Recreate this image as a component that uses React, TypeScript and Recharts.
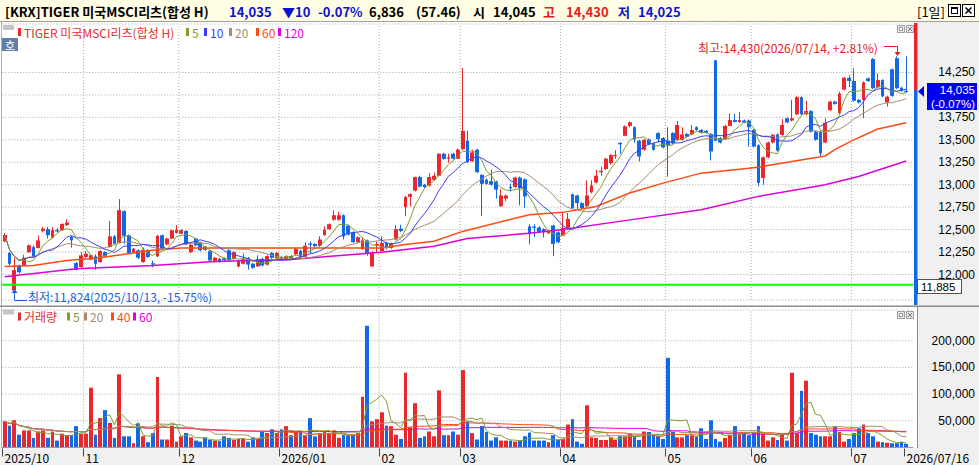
import { ComposedChart, Bar, Line, XAxis, YAxis, CartesianGrid, ReferenceLine } from 'recharts';

const FONT = '"Noto Sans CJK KR", "Noto Sans", sans-serif';
const NUM_FONT = '"Liberation Sans", Arial, sans-serif';
const UP = '#e8282c';
const DOWN = '#1169e8';
const TXT_BLUE = '#0a14d0';
const TXT_RED = '#e01e1e';

// x-axis: first trading day of each month, plus the last day
const monthTickIdx = [0, 17, 37, 58, 79, 96, 117, 139, 157, 178, 189];
const monthTickLabels = ['2025/10', '11', '12', '2026/01', '02', '03', '04', '05', '06', '07', '2026/07/16'];

const priceTicks = [12000, 12250, 12500, 12750, 13000, 13250, 13500, 13750, 14000, 14250];
const volumeTicks = [50000, 100000, 150000, 200000];

// daily candles, 2025/10 .. 2026/07/16
const opens = [
  12370, 12240, 11824, 12100, 12100, 12250, 12305, 12295, 12485, 12505,
  12410, 12495, 12493, 12550, 12418, 12127, 12082, 12195, 12165, 12202,
  12138, 12250, 12306, 12425, 12351, 12705, 12437, 12250, 12269, 12138,
  12270, 12125, 12202, 12437, 12335, 12400, 12463, 12455, 12485, 12250,
  12400, 12355, 12310, 12260, 12138, 12175, 12180, 12270, 12175, 12090,
  12120, 12185, 12120, 12090, 12175, 12110, 12240, 12185, 12195, 12170,
  12205, 12225, 12265, 12200, 12345, 12340, 12320, 12440, 12505, 12610,
  12610, 12660, 12545, 12470, 12360, 12285, 12380, 12090, 12330, 12260,
  12350, 12295, 12390, 12510, 12750, 12865, 12935, 13085, 13000, 12990,
  13055, 13100, 13345, 13290, 13345, 13290, 13395, 13490, 13260, 13390,
  13110, 13055, 13040, 13035, 12760, 12845, 12975, 12975, 13080, 13060,
  12535, 12535, 12525, 12505, 12460, 12545, 12470, 12435, 12520, 12895,
  12880, 12795, 12760, 12915, 13025, 13140, 13175, 13240, 13320, 13465,
  13545, 13655, 13640, 13490, 13390, 13505, 13460, 13575, 13520, 13490,
  13575, 13500, 13500, 13565, 13560, 13640, 13610, 13600, 13565, 14385,
  13520, 13505, 13655, 13720, 13700, 13715, 13715, 13610, 13440, 13075,
  13305, 13470, 13560, 13555, 13740, 13715, 13785, 13975, 13785, 13820,
  13590, 13590, 13470, 13830, 13925, 13795, 14060, 14190, 14155, 13945,
  13945, 14185, 14400, 14085, 14165, 13915, 14285, 14410, 14080, 14045,
];
const highs = [
  12460, 12250, 12190, 12110, 12220, 12335, 12325, 12435, 12530, 12530,
  12530, 12520, 12570, 12615, 12430, 12140, 12250, 12260, 12225, 12225,
  12270, 12260, 12597, 12440, 12840, 12715, 12445, 12295, 12280, 12300,
  12280, 12155, 12440, 12445, 12410, 12500, 12550, 12505, 12495, 12345,
  12410, 12365, 12320, 12270, 12195, 12185, 12190, 12280, 12260, 12160,
  12235, 12195, 12130, 12215, 12185, 12215, 12250, 12250, 12205, 12215,
  12215, 12295, 12275, 12360, 12370, 12350, 12425, 12535, 12570, 12715,
  12700, 12670, 12555, 12480, 12425, 12410, 12390, 12260, 12370, 12425,
  12365, 12355, 12550, 12555, 12875, 12905, 13090, 13100, 13010, 13130,
  13135, 13350, 13355, 13345, 13355, 13405, 14300, 13600, 13390, 13400,
  13115, 13070, 13165, 13045, 12950, 12890, 13010, 13090, 13090, 13070,
  12560, 12560, 12535, 12515, 12495, 12555, 12480, 12695, 12685, 12900,
  12890, 12805, 13050, 13050, 13165, 13200, 13300, 13340, 13385, 13475,
  13660, 13705, 13650, 13500, 13510, 13515, 13470, 13585, 13530, 13640,
  13585, 13710, 13640, 13575, 13665, 13650, 13620, 13610, 13575, 14390,
  13530, 13665, 13795, 13790, 13810, 13725, 13725, 13620, 13450, 13315,
  13480, 13565, 13570, 13730, 13750, 13945, 13985, 13985, 13935, 13830,
  13600, 13600, 13740, 13935, 13935, 14035, 14200, 14220, 14295, 13955,
  14150, 14195, 14410, 14240, 14175, 13990, 14295, 14430, 14090, 14430,
];
const lows = [
  12360, 12100, 11824, 12010, 12095, 12240, 12190, 12290, 12470, 12400,
  12405, 12470, 12485, 12540, 12300, 12045, 12075, 12180, 12160, 12052,
  12130, 12195, 12300, 12335, 12345, 12343, 12230, 12240, 12170, 12130,
  12185, 12080, 12195, 12280, 12325, 12395, 12455, 12450, 12330, 12240,
  12315, 12260, 12265, 12140, 12130, 12130, 12150, 12140, 12165, 12080,
  12110, 12055, 12065, 12085, 12090, 12100, 12175, 12175, 12160, 12160,
  12170, 12215, 12185, 12190, 12230, 12305, 12310, 12430, 12495, 12600,
  12600, 12390, 12435, 12350, 12350, 12275, 12210, 12085, 12250, 12255,
  12280, 12285, 12380, 12470, 12650, 12760, 12925, 12970, 12965, 12980,
  13045, 13095, 13280, 13245, 13280, 13285, 13390, 13245, 13255, 13130,
  12650, 13000, 12990, 12845, 12755, 12815, 12925, 12965, 12770, 12740,
  12335, 12415, 12465, 12415, 12450, 12205, 12350, 12425, 12510, 12730,
  12730, 12730, 12750, 12905, 13015, 13100, 13165, 13225, 13290, 13345,
  13540, 13640, 13470, 13260, 13380, 13440, 13380, 13470, 13405, 13090,
  13450, 13490, 13490, 13525, 13550, 13600, 13570, 13570, 13270, 13485,
  13460, 13500, 13650, 13690, 13690, 13685, 13425, 13415, 12980, 13000,
  13295, 13460, 13370, 13545, 13685, 13705, 13775, 13775, 13775, 13580,
  13490, 13320, 13460, 13820, 13890, 13785, 14050, 14090, 13925, 13905,
  13740, 14145, 14065, 14075, 13975, 13870, 13980, 14065, 14035, 14025,
];
const closes = [
  12440, 12120, 12050, 12025, 12187, 12325, 12200, 12380, 12510, 12437,
  12493, 12480, 12563, 12578, 12381, 12052, 12213, 12232, 12213, 12119,
  12261, 12202, 12425, 12343, 12716, 12430, 12240, 12287, 12187, 12276,
  12195, 12110, 12430, 12287, 12400, 12493, 12500, 12493, 12336, 12330,
  12325, 12270, 12275, 12157, 12187, 12140, 12160, 12157, 12250, 12150,
  12170, 12110, 12075, 12170, 12100, 12205, 12185, 12240, 12170, 12205,
  12180, 12285, 12195, 12320, 12330, 12315, 12390, 12500, 12560, 12660,
  12660, 12425, 12445, 12360, 12415, 12380, 12240, 12250, 12340, 12350,
  12295, 12345, 12505, 12485, 12865, 12895, 13085, 12980, 12975, 13085,
  13100, 13345, 13285, 13305, 13290, 13390, 13600, 13250, 13360, 13140,
  13010, 13010, 13000, 12945, 12880, 12880, 12960, 13080, 12960, 12870,
  12450, 12520, 12475, 12470, 12490, 12340, 12360, 12520, 12620, 12740,
  12795, 12740, 12880, 12990, 13100, 13155, 13290, 13330, 13330, 13450,
  13650, 13695, 13505, 13315, 13500, 13450, 13390, 13510, 13415, 13435,
  13460, 13665, 13560, 13535, 13610, 13610, 13580, 13580, 13370, 13490,
  13470, 13655, 13720, 13700, 13720, 13695, 13640, 13425, 13020, 13305,
  13470, 13555, 13380, 13665, 13695, 13740, 13975, 13785, 13820, 13590,
  13500, 13350, 13690, 13925, 13900, 14015, 14190, 14155, 13935, 13915,
  14140, 14155, 14075, 14165, 13985, 13980, 13990, 14075, 14045, 14035,
];
const volumes = [
  49000, 41000, 51000, 24000, 32000, 32000, 18000, 30000, 32000, 18000,
  30000, 13000, 26000, 23000, 23000, 40000, 26000, 26000, 112000, 24000,
  55000, 70000, 46000, 18000, 137000, 21000, 21000, 8000, 45000, 21000,
  10000, 27000, 132000, 15000, 15000, 41000, 11000, 21000, 27000, 19000,
  13000, 11000, 19000, 14000, 13000, 12000, 21000, 18000, 14000, 16000,
  16000, 11000, 19000, 16000, 29000, 27000, 34000, 27000, 34000, 40000,
  23000, 30000, 30000, 23000, 55000, 21000, 27000, 30000, 27000, 32000,
  18000, 24000, 23000, 23000, 27000, 95000, 228000, 49000, 53000, 66000,
  41000, 40000, 24000, 16000, 140000, 38000, 83000, 18000, 21000, 30000,
  21000, 107000, 23000, 23000, 30000, 24000, 145000, 49000, 27000, 15000,
  40000, 29000, 13000, 19000, 13000, 13000, 13000, 11000, 13000, 21000,
  28000, 13000, 13000, 13000, 10000, 23000, 14000, 16000, 43000, 53000,
  11000, 7000, 79000, 19000, 18000, 14000, 14000, 19000, 14000, 21000,
  21000, 26000, 21000, 14000, 30000, 29000, 23000, 21000, 16000, 168000,
  29000, 19000, 19000, 23000, 23000, 21000, 36000, 16000, 51000, 16000,
  11000, 18000, 23000, 40000, 26000, 27000, 23000, 27000, 40000, 26000,
  13000, 19000, 14000, 24000, 13000, 140000, 27000, 106000, 125000, 27000,
  24000, 21000, 21000, 21000, 40000, 29000, 11000, 16000, 27000, 36000,
  43000, 27000, 21000, 11000, 10000, 9000, 8000, 8000, 11000, 7000,
];

// long averages (their history starts before the window)
const ma60Idx = [0, 6, 13, 20, 31, 37, 50, 60, 79, 84, 90, 96, 110, 117, 124, 131, 138, 146, 158, 165, 172, 174, 178, 183, 189];
const ma60Val = [12090, 12100, 12157, 12187, 12270, 12295, 12295, 12296, 12296, 12335, 12370, 12480, 12666, 12692, 12758, 12907, 13018, 13129, 13195, 13258, 13320, 13390, 13500, 13620, 13690];
const ma120Idx = [0, 15, 31, 44, 60, 69, 79, 84, 90, 97, 110, 117, 130, 146, 158, 172, 179, 189];
const ma120Val = [11975, 12065, 12100, 12145, 12167, 12205, 12248, 12278, 12315, 12400, 12460, 12500, 12600, 12722, 12870, 13000, 13092, 13265];

const C = {
  ma5: '#7f9c2e',
  ma10: '#3c3cf4',
  ma20: '#a68c6c',
  ma60: '#ff4a12',
  ma120: '#dc00dc',
};

const rollingMean = (arr: number[], n: number) =>
  arr.map((_, i) => {
    const w = arr.slice(Math.max(0, i - n + 1), i + 1);
    return w.reduce((a, b) => a + b, 0) / w.length;
  });

const ma5 = rollingMean(closes, 5);
const ma10 = rollingMean(closes, 10);
const ma20 = rollingMean(closes, 20);
const vma5 = rollingMean(volumes, 5);
const vma20 = rollingMean(volumes, 20);
const vma40 = rollingMean(volumes, 40);
const vma60 = rollingMean(volumes, 60);

const rows: any[] = closes.map((c, i) => ({
  i,
  o: opens[i],
  h: highs[i],
  l: lows[i],
  c,
  v: volumes[i],
  ma5: ma5[i],
  ma10: ma10[i],
  ma20: ma20[i],
  ma60: ma60Idx.includes(i) ? ma60Val[ma60Idx.indexOf(i)] : null,
  ma120: ma120Idx.includes(i) ? ma120Val[ma120Idx.indexOf(i)] : null,
  vma5: vma5[i],
  vma20: vma20[i],
  vma40: vma40[i],
  vma60: vma60[i],
}));
rows.push({ i: closes.length }); // empty slot at the right edge

const W = 979;
const LEFT = 2.3;
const AXIS_W = 65.6;
const BAND = (W - LEFT - AXIS_W) / rows.length;
const VOL_H = 157;
const DATE_AXIS_H = 17.5;
const LAST_PRICE = 14035;

function Candle(props: any) {
  const { x, y, width, height, payload } = props;
  if (!payload || payload.h == null) return null;
  const { o, h, l, c } = payload;
  const color = c >= o ? UP : DOWN;
  const top = Math.min(y, y + height);
  const span = Math.abs(height);
  const py = (v: number) => (h === l ? top : top + ((h - v) / (h - l)) * span);
  const cx = x + width / 2;
  const x1 = Math.round(cx - 1.9);
  const x2 = Math.round(cx + 1.9);
  const wx = Math.floor(cx) + 0.5;
  const bTop = py(Math.max(o, c));
  const bBot = py(Math.min(o, c));
  return (
    <g>
      <line x1={wx} x2={wx} y1={top} y2={top + span} stroke={color} strokeWidth={1} />
      <rect x={x1} y={bTop} width={x2 - x1} height={Math.max(1, bBot - bTop)} fill={color} />
    </g>
  );
}

function VolBar(props: any) {
  const { x, y, width, height, payload } = props;
  if (!payload || payload.v == null) return null;
  const cx = x + width / 2;
  const x1 = Math.round(cx - 1.9);
  const x2 = Math.round(cx + 1.9);
  return <rect x={x1} y={y} width={x2 - x1} height={height} fill={payload.c >= payload.o ? UP : DOWN} />;
}

const RightTick = (props: any) => {
  const v = Number(props.payload.value);
  // the label next to the last price sits under the price tag in the original
  if (Math.abs(v - LAST_PRICE) < 100) return <g />;
  return (
    <text x={975} y={props.y} dominantBaseline="central" textAnchor="end" fontSize={12} fill="#000" fontFamily={NUM_FONT}>
      {v.toLocaleString('en-US')}
    </text>
  );
};

// coordinates inside the volume chart's own svg
const DateTick = (props: any) => {
  const { x, payload } = props;
  const axisTop = VOL_H - DATE_AXIS_H;
  const lx = Math.round(x - BAND / 2) + 0.5;
  const label = monthTickLabels[monthTickIdx.indexOf(payload.value)];
  return (
    <g>
      <line x1={lx} x2={lx} y1={axisTop + 1} y2={axisTop + 9} stroke="#444" />
      <text x={lx + 2} y={axisTop + 10} dominantBaseline="central" fontSize={12} fill="#000" fontFamily={FONT}>
        {label}
      </text>
    </g>
  );
};

const monthLines = monthTickIdx.slice(1, -1).map((m) => (
  <ReferenceLine key={m} x={m} position="start" stroke="#a8a8a8" strokeDasharray="1 2" />
));

function PriceChart() {
  return (
    <ComposedChart width={W} height={284} data={rows} margin={{ top: 2, right: 0, bottom: 6, left: LEFT }} barCategoryGap={0}>
      <CartesianGrid vertical={false} stroke="#a8a8a8" strokeDasharray="1 2" />
      <XAxis dataKey="i" type="category" hide />
      <YAxis
        orientation="right"
        width={AXIS_W}
        domain={[11716, 14790]}
        allowDataOverflow
        ticks={priceTicks}
        interval={0}
        axisLine={false}
        tickLine={false}
        tick={RightTick}
      />
      {monthLines}
      <ReferenceLine y={11885} stroke="#00ff00" strokeWidth={2} />
      <Bar dataKey={(d: any) => (d.h == null ? null : [d.l, d.h])} shape={Candle} isAnimationActive={false} />
      <Line dataKey="ma120" stroke={C.ma120} strokeWidth={1.5} dot={false} connectNulls isAnimationActive={false} />
      <Line dataKey="ma60" stroke={C.ma60} strokeWidth={1.5} dot={false} connectNulls isAnimationActive={false} />
      <Line dataKey="ma20" stroke={C.ma20} strokeWidth={1} dot={false} isAnimationActive={false} />
      <Line dataKey="ma10" stroke={C.ma10} strokeWidth={1} dot={false} isAnimationActive={false} />
      <Line dataKey="ma5" stroke={C.ma5} strokeWidth={1} dot={false} isAnimationActive={false} />
    </ComposedChart>
  );
}

function VolumeChart() {
  return (
    <ComposedChart width={W} height={VOL_H} data={rows} margin={{ top: 2, right: 0, bottom: 0, left: LEFT }} barCategoryGap={0}>
      <CartesianGrid vertical={false} stroke="#a8a8a8" strokeDasharray="1 2" />
      <XAxis
        dataKey="i"
        type="category"
        height={DATE_AXIS_H}
        ticks={monthTickIdx}
        interval={0}
        axisLine={{ stroke: '#9a9a9a' }}
        tickLine={false}
        tick={DateTick}
      />
      <YAxis
        orientation="right"
        width={AXIS_W}
        domain={[0, 257500]}
        allowDataOverflow
        ticks={volumeTicks}
        interval={0}
        axisLine={false}
        tickLine={false}
        tick={RightTick}
      />
      {monthLines}
      <Bar dataKey="v" shape={VolBar} isAnimationActive={false} />
      <Line dataKey="vma60" stroke={C.ma120} strokeWidth={1} dot={false} isAnimationActive={false} />
      <Line dataKey="vma40" stroke={C.ma60} strokeWidth={1} dot={false} isAnimationActive={false} />
      <Line dataKey="vma20" stroke={C.ma20} strokeWidth={1} dot={false} isAnimationActive={false} />
      <Line dataKey="vma5" stroke={C.ma5} strokeWidth={1} dot={false} isAnimationActive={false} />
    </ComposedChart>
  );
}

const headerItems: [number, string, string][] = [
  [5, '[KRX]TIGER 미국MSCI리츠(합성 H)', '#000'],
  [229, '14,035', TXT_BLUE],
  [282, '▼10', TXT_BLUE],
  [318, '-0.07%', TXT_BLUE],
  [369, '6,836', '#000'],
  [416, '(57.46)', '#000'],
  [473, '시', '#000'],
  [493, '14,045', '#000'],
  [543, '고', TXT_RED],
  [566, '14,430', TXT_RED],
  [618, '저', TXT_BLUE],
  [638, '14,025', TXT_BLUE],
];

const priceLegend: [number, string, string][] = [
  [18, 'TIGER 미국MSCI리츠(합성 H)', '#e03030'],
  [186, '5', C.ma5],
  [204, '10', C.ma10],
  [229, '20', C.ma20],
  [256, '60', C.ma60],
  [278, '120', C.ma120],
];

const volumeLegend: [number, string, string][] = [
  [18, '거래량', '#e03030'],
  [67, '5', C.ma5],
  [84, '20', C.ma20],
  [111, '40', C.ma60],
  [133, '60', C.ma120],
];

function Legend({ items, y }: { items: [number, string, string][]; y: number }) {
  return (
    <g>
      <rect x={3} y={y - 7} width={11} height={5} fill="#c4c4c4" />
      {items.map(([x, t, c]) => (
        <g key={t}>
          <rect x={x} y={y - 4} width={3} height={8} fill={c} />
          <text x={x + 6} y={y} dominantBaseline="central" fontSize={12} fill={c}>
            {t}
          </text>
        </g>
      ))}
    </g>
  );
}

function PanelIcons({ y }: { y: number }) {
  return (
    <g stroke="#a0a0a0" fill="#e6e6e6">
      <rect x={897.5} y={y + 0.5} width={7} height={7} />
      <rect x={899.5} y={y + 2.5} width={3} height={3} fill="#fff" />
      <rect x={906.5} y={y + 0.5} width={7} height={7} />
      <path d={`M908 ${y + 2} l4 4 M912 ${y + 2} l-4 4`} stroke="#777" />
    </g>
  );
}

function Overlay() {
  return (
    <svg width={W} height={465} fontFamily={FONT} style={{ position: 'absolute', left: 0, top: 0, pointerEvents: 'none' }}>
      {/* title bar */}
      <rect x={0} y={0} width={W} height={21} fill="#fffde3" />
      <line x1={0} x2={W} y1={21.5} y2={21.5} stroke="#a0a0a0" />
      {headerItems.map(([x, t, c]) => (
        <text key={x} x={x} y={11} dominantBaseline="central" fontSize={13} fontWeight={700} fill={c}>
          {t}
        </text>
      ))}
      <text x={917} y={11} dominantBaseline="central" fontSize={13} fill="#000">[1일]</text>
      <rect x={948.5} y={4.5} width={12} height={12} fill="#fff" stroke="#000" />
      <rect x={951.5} y={7.5} width={6} height={6} fill="none" stroke="#000" strokeWidth={1} />
      <line x1={951} x2={958} y1={8} y2={8} stroke="#000" strokeWidth={2} />
      <rect x={962.5} y={4.5} width={12} height={12} fill="#fff" stroke="#000" />
      <path d="M965.5 7.5 l6 6 M971.5 7.5 l-6 6" stroke="#000" strokeWidth={1.5} />

      {/* frame */}
      <line x1={1.5} x2={1.5} y1={22} y2={448} stroke="#b0b0b0" />
      <line x1={917.5} x2={917.5} y1={306} y2={448} stroke="#8c8c8c" />
      <rect x={0} y={305.5} width={W} height={1.5} fill="#8c8c8c" />
      <rect x={914} y={23} width={3.5} height={67} fill={UP} />
      <rect x={914} y={90} width={3.5} height={215} fill={DOWN} />

      {/* legends */}
      <Legend items={priceLegend} y={32} />
      <Legend items={volumeLegend} y={316.5} />
      <rect x={2} y={38} width={16} height={13} fill="#5f80aa" />
      <text x={10} y={44.5} dominantBaseline="central" textAnchor="middle" fontSize={11} fill="#fff">호</text>
      <PanelIcons y={25} />
      <PanelIcons y={311} />

      {/* high / low marks */}
      <text x={698} y={47} dominantBaseline="central" fontSize={12} fill={TXT_RED}>
        최고:14,430(2026/07/14, +2.81%)
      </text>
      <path d="M884 46.5 H897.5 V53" stroke={TXT_RED} fill="none" />
      <polygon points="894.5,52 900.5,52 897.5,56" fill={TXT_RED} />
      <text x={28} y={296.5} dominantBaseline="central" fontSize={12} fill="#1a5fd8">
        최저:11,824(2025/10/13, -15.75%)
      </text>
      <path d="M14.5 293 V300.5 H27" stroke="#1a5fd8" fill="none" />
      <polygon points="11.5,293 17.5,293 14.5,289" fill="#1a5fd8" />

      {/* current price tag */}
      <polygon points="918,91.5 924,86 924,97" fill="#0000f0" />
      <rect x={927} y={83} width={50} height={27} fill="#0000f0" />
      <text x={975} y={89.5} dominantBaseline="central" textAnchor="end" fontSize={11.5} fill="#fff" fontFamily={NUM_FONT}>14,035</text>
      <text x={975} y={103.5} dominantBaseline="central" textAnchor="end" fontSize={11.5} fill="#fff" fontFamily={NUM_FONT}>(-0.07%)</text>
      <rect x={917.5} y={279.5} width={44} height={14} fill="#fff" stroke="#555" />
      <text x={921} y={286.8} dominantBaseline="central" fontSize={11.5} fill="#000" fontFamily={NUM_FONT}>11,885</text>
    </svg>
  );
}

export default function App() {
  return (
    <div style={{ position: 'absolute', left: 0, top: 0, width: W, height: 465, background: '#fff', overflow: 'hidden', fontFamily: FONT }}>
      {/* axis backgrounds */}
      <div style={{ position: 'absolute', left: 917, top: 22, width: 62, height: 426, background: '#f0f0f0' }} />
      <div style={{ position: 'absolute', left: 0, top: 448, width: W, height: 17, background: '#f0f0f0' }} />
      <div style={{ position: 'absolute', left: 0, top: 22 }}>
        <PriceChart />
      </div>
      <div style={{ position: 'absolute', left: 0, top: 308 }}>
        <VolumeChart />
      </div>
      <Overlay />
    </div>
  );
}
